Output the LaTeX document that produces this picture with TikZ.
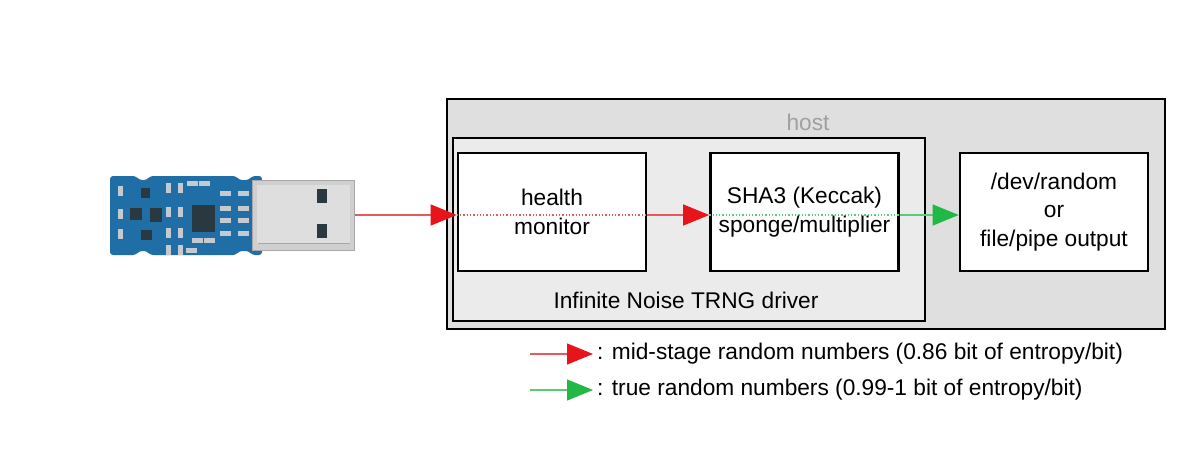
\documentclass[tikz,border=0pt]{standalone}
\usepackage{fontspec}
\setmainfont{Liberation Sans}
\usetikzlibrary{arrows.meta}
\definecolor{hostfill}{HTML}{DFDFDF}
\definecolor{drvfill}{HTML}{EBEBEB}
\definecolor{hosttext}{HTML}{A0A0A0}
\definecolor{arrred}{HTML}{E8141C}
\definecolor{linered}{HTML}{E65A5F}
\definecolor{arrgreen}{HTML}{22B845}
\definecolor{linegreen}{HTML}{5CC878}
\definecolor{pcb}{HTML}{1F6EA6}
\definecolor{pcbdark}{HTML}{175A8C}
\definecolor{metal}{HTML}{CFCFCF}
\definecolor{metalin}{HTML}{DEDEDE}
\definecolor{metaledge}{HTML}{A8A8A8}
\definecolor{chip}{HTML}{2A3840}
\definecolor{part}{HTML}{C4CAD0}
\tikzset{
  boxbase/.style={draw=black, line width=2.6pt, inner sep=0pt},
  hostbox/.style={boxbase, fill=hostfill},
  drvbox/.style={boxbase, fill=drvfill},
  stagebox/.style={boxbase, fill=white, minimum width=188pt, minimum height=118pt},
  stagetext/.style={align=center, font=\fontsize{22.7}{28.5}\selectfont},
  redflow/.style={draw=linered, line width=1.3pt, -{Triangle[length=26pt,width=21pt,color=arrred]}},
  greenflow/.style={draw=linegreen, line width=1.3pt, -{Triangle[length=26pt,width=21pt,color=arrgreen]}},
  reddot/.style={draw=linered, line width=1.3pt, dotted},
  greendot/.style={draw=linegreen, line width=1.3pt, dotted},
  legendtext/.style={anchor=west, inner sep=0pt, font=\fontsize{22.7}{27}\selectfont},
  smdh/.style={fill=part, draw=none},
  ic/.style={fill=chip, draw=none}
}
\begin{document}
\begin{tikzpicture}[x=1pt, y=-1pt, font=\fontsize{22.7}{28}\selectfont]
\useasboundingbox[fill=white] (0,0) rectangle (1200,466);

% ---------- USB stick ----------
\fill[pcb, rounded corners=3pt] (110,176) -- (136,176) -- (139,180) -- (147,180) -- (150,176)
   -- (236,176) -- (239,180) -- (249,180) -- (252,176) -- (262,176)
   -- (262,255) -- (252,255) -- (249,251) -- (239,251) -- (236,255)
   -- (150,255) -- (147,251) -- (139,251) -- (136,255) -- (110,255) -- cycle;
% chips
\fill[ic] (192,205) rectangle (215,232);
\fill[ic] (130,208) rectangle (142,220);
\fill[ic] (150,208) rectangle (162,222);
\fill[ic] (141,188) rectangle (150,198);
\fill[ic] (141,230) rectangle (152,240);
% vertical resistors
\foreach \x/\y in {118/186,118/209,118/229,166/183,178/183,166/207,178/207,166/228,178/228,166/245,178/245}{
  \fill[smdh] (\x,\y) rectangle ++(5,10);
}
% horizontal resistors
\foreach \x/\y in {187/181,199/181,220/191,238/191,220/206,238/206,220/218,238/218,220/231,238/231,192/238,204/238,186/248}{
  \fill[smdh] (\x,\y) rectangle ++(11,5);
}
% connector
\fill[metal, draw=metaledge, line width=0.8pt] (252,180) rectangle (354,250);
\fill[metalin] (257,185) rectangle (350,244);
\fill[chip] (317,189) rectangle (327,203);
\fill[chip] (317,224) rectangle (327,238);
\draw[metaledge, line width=0.8pt] (258,243) -- (350,243);
\coordinate (usb) at (355,215);

% ---------- host ----------
\node[hostbox, minimum width=718pt, minimum height=230pt] (host) at (806,214) {};
\node[text=hosttext] (hostlabel) at (808,122) {host};
\node[drvbox, minimum width=472pt, minimum height=183pt] (driver) at (689,229.5) {};
\node (drvlabel) at (686,300) {Infinite Noise TRNG driver};

\node[stagebox] (health) at (552,212) {};
\node[stagebox] (sha) at (804.5,212) {};
\node[stagebox] (out) at (1054,212) {};

% flows
\draw[redflow] (usb) -- (usb -| health.west);
\draw[reddot] (usb -| health.west) -- (usb -| health.east);
\draw[redflow] (usb -| health.east) -- (usb -| sha.west);
\draw[greendot] (usb -| sha.west) -- (usb -| sha.east);
\draw[greenflow] (usb -| sha.east) -- (usb -| out.west);

\node[stagetext] (healthtext) at (health.center) {health\\monitor};
\node[stagetext] (shatext) at (sha.center) {SHA3 (Keccak)\\sponge/multiplier};
\node[stagetext] (outtext) at (out.center) {/dev/random\\or\\file/pipe output};

% ---------- legend ----------
\coordinate (lr0) at (530,354);
\coordinate (lr1) at (593,354);
\coordinate (lg0) at (530,390);
\coordinate (lg1) at (593,390);
\draw[redflow] (lr0) -- (lr1);
\draw[greenflow] (lg0) -- (lg1);
\node[legendtext] (lrt) at (597,354) {: mid-stage random numbers (0.86 bit of entropy/bit)};
\node[legendtext] (lgt) at (597,390) {: true random numbers (0.99-1 bit of entropy/bit)};
\end{tikzpicture}
\end{document}
